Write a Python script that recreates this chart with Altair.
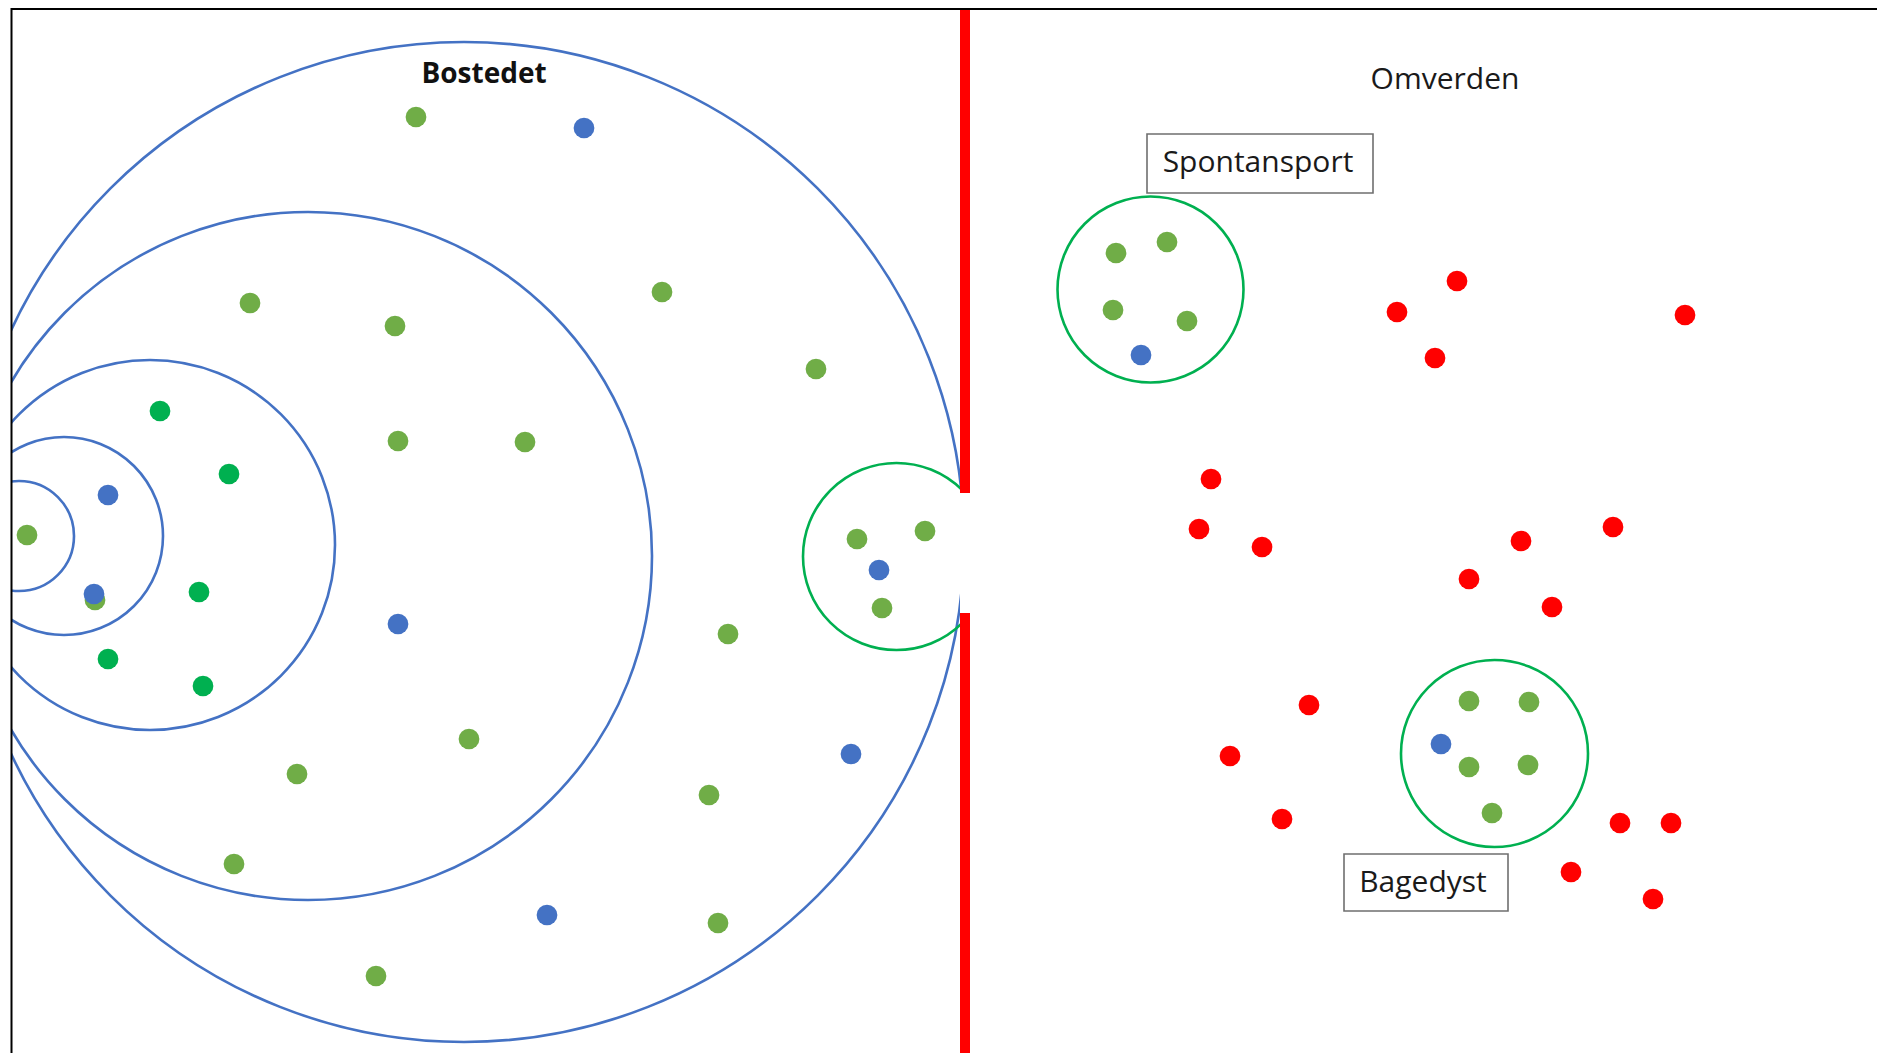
import altair as alt
import pandas as pd

# ---- dots (reference pixel coordinates) ----
light_green_x = [416, 250, 395, 662, 816, 398, 525, 27, 728, 469, 297, 709, 234, 718, 376, 95,
                 857, 925, 882,
                 1116, 1167, 1113, 1187,
                 1469, 1529, 1469, 1528, 1492]
light_green_y = [117, 303, 326, 292, 369, 441, 442, 535, 634, 739, 774, 795, 864, 923, 976, 600,
                 539, 531, 608,
                 253, 242, 310, 321,
                 701, 702, 767, 765, 813]

dark_green_x = [160, 229, 199, 108, 203]
dark_green_y = [411, 474, 592, 659, 686]

blue_x = [584, 108, 94, 398, 851, 547, 879, 1141, 1441]
blue_y = [128, 495, 594, 624, 754, 915, 570, 355, 744]

red_x = [1457, 1397, 1435, 1685, 1211, 1199, 1262, 1521, 1613, 1469, 1552, 1309, 1230, 1282,
         1620, 1671, 1571, 1653]
red_y = [281, 312, 358, 315, 479, 529, 547, 541, 527, 579, 607, 705, 756, 819,
         823, 823, 872, 899]

# ---- rings ----
ring_x = [464, 308, 150, 64, 19, 896.5, 1150.5, 1494.5]
ring_y = [542, 556, 545, 536, 536, 556.5, 289.5, 753.5]
ring_r = [500, 344, 185, 99, 55, 93.5, 93, 93.5]
ring_color = ["#4472C4"] * 5 + ["#00B050"] * 3

# ---- red border line (two segments, gap where the ring opens) ----
red_line_x = [965, 965]
red_line_y1 = [8, 613]
red_line_y2 = [493, 1053]

# white cover for the part of the ring beyond the border
cover_x1 = [960]
cover_x2 = [998]
cover_y1 = [484]
cover_y2 = [630]

# ---- label boxes ----
box_x1 = [1147, 1344]
box_x2 = [1373, 1508]
box_y1 = [134, 854]
box_y2 = [193, 911]

# ---- texts ----
title_text = ["Bostedet"]
title_x = [484]
title_y = [75]
label_text = ["Omverden", "Spontansport", "Bagedyst"]
label_x = [1445, 1258, 1423]
label_y = [80, 163, 883]

XS = alt.Scale(domain=[11, 1877], nice=False, zero=False)
YS = alt.Scale(domain=[8, 1053], reverse=True, nice=False, zero=False)


def X(f="x"):
    return alt.X(f"{f}:Q", scale=XS, axis=None)


def Y(f="y"):
    return alt.Y(f"{f}:Q", scale=YS, axis=None)


rings_df = pd.DataFrame({"x": ring_x, "y": ring_y, "r": ring_r, "color": ring_color})
rings_df["size"] = (2 * rings_df["r"]) ** 2

rings = alt.Chart(rings_df).mark_point(shape="circle", filled=False, clip=True,
                                       strokeWidth=2.6, opacity=1).encode(
    x=X(), y=Y(),
    size=alt.Size("size:Q", scale=None),
    color=alt.Color("color:N", scale=None),
)

cover = alt.Chart(pd.DataFrame({"x": cover_x1, "x2": cover_x2, "y": cover_y1, "y2": cover_y2})).mark_rect(
    color="white").encode(x=X(), x2="x2:Q", y=Y(), y2="y2:Q")

red_line = alt.Chart(pd.DataFrame({"x": red_line_x, "y": red_line_y1, "y2": red_line_y2})).mark_rule(
    color="#FF0000", strokeWidth=10).encode(x=X(), y=Y(), y2="y2:Q")

frame_top = alt.Chart(pd.DataFrame({"x": [11], "x2": [1877], "y": [9]})).mark_rule(
    color="black", strokeWidth=2).encode(x=X(), x2="x2:Q", y=Y())
frame_left = alt.Chart(pd.DataFrame({"x": [11.5], "y": [8], "y2": [1053]})).mark_rule(
    color="black", strokeWidth=2).encode(x=X(), y=Y(), y2="y2:Q")


def dots(xs, ys, col):
    return alt.Chart(pd.DataFrame({"x": xs, "y": ys})).mark_circle(
        color=col, opacity=1, size=430).encode(x=X(), y=Y())


lg = dots(light_green_x, light_green_y, "#70AD47")
dg = dots(dark_green_x, dark_green_y, "#00B050")
bl = dots(blue_x, blue_y, "#4472C4")
rd = dots(red_x, red_y, "#FF0000")

boxes = alt.Chart(pd.DataFrame({"x": box_x1, "x2": box_x2, "y": box_y1, "y2": box_y2})).mark_rect(
    fill="white", stroke="#6F6F6F", strokeWidth=1.6).encode(x=X(), x2="x2:Q", y=Y(), y2="y2:Q")

title = alt.Chart(pd.DataFrame({"x": title_x, "y": title_y, "t": title_text})).mark_text(
    font="Open Sans", fontSize=28, fontWeight="bold", color="#111111", baseline="middle", align="center"
).encode(x=X(), y=Y(), text="t:N")

labels = alt.Chart(pd.DataFrame({"x": label_x, "y": label_y, "t": label_text})).mark_text(
    font="Open Sans", fontSize=30, color="#1a1a1a", baseline="middle", align="center"
).encode(x=X(), y=Y(), text="t:N")

chart = alt.layer(rings, cover, red_line, frame_top, frame_left, lg, dg, bl, rd, boxes, title, labels).properties(
    width=1866, height=1045,
    padding={"left": 3, "top": 0, "right": 0, "bottom": 0},
    autosize=alt.AutoSizeParams(type="none"),
    background="white",
).configure_view(stroke=None)

chart.save("out.html", embed_options={"renderer": "svg", "actions": False})
